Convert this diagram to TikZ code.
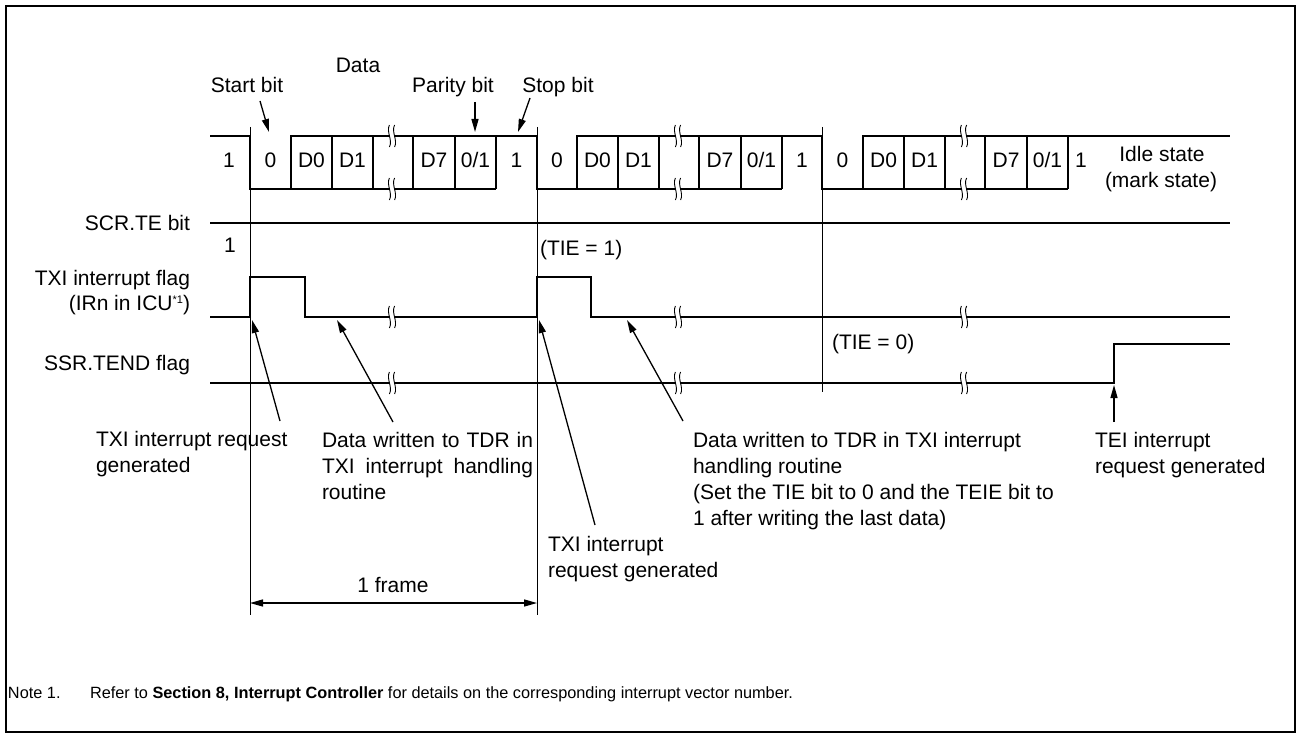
\documentclass[tikz,border=0pt]{standalone}
\usepackage{fontspec}
\setmainfont{Liberation Sans}
\usetikzlibrary{arrows.meta}
\begin{document}
\begin{tikzpicture}[x=1pt,y=-1pt,
  every node/.style={inner sep=0pt, outer sep=0pt, font=\fontsize{21}{26}\selectfont},
  lbl/.style={anchor=base},
  lblw/.style={anchor=base west},
  lble/.style={anchor=base east},
  wave/.style={line width=2.6pt},
  thinv/.style={line width=0.9pt},
  sig/.style={line width=2pt},
  arr/.style={line width=1.3pt, -{Triangle[length=13pt,width=7pt]}},
  darr/.style={line width=1.3pt, {Triangle[length=13pt,width=7pt]}-{Triangle[length=13pt,width=7pt]}},
  brk/.pic={
    \fill[white] (-2.6,-7) rectangle (2.6,7);
    \draw[line width=0.9pt] (-2.6,-11) .. controls (-6,-4) and (1,4) .. (-2.6,11);
    \draw[line width=0.9pt] (2.6,-11) .. controls (-1,-4) and (6,4) .. (2.6,11);
  }
]
\useasboundingbox (0,0) rectangle (1301,738);
% outer frame
\draw[line width=2.4pt] (6,6) rectangle (1295,732);

% thin frame markers
\draw[thinv] (250,127) -- (250,615);
\draw[thinv] (537,127) -- (537,615);
\draw[thinv] (822,127) -- (822,392);

% serial data waveform
\draw[wave] (210,136) -- (250,136) -- (250,189) -- (496,189);
\draw[wave] (291,189) -- (291,136) -- (537,136) -- (537,189) -- (782,189);
\draw[wave] (577,189) -- (577,136) -- (822,136) -- (822,189) -- (1068,189);
\draw[wave] (863,189) -- (863,136) -- (1230,136);
\foreach \x in {332,373,413,455,496, 618,659,699,741,782, 904,945,985,1027,1068}
  \draw[wave] (\x,136) -- (\x,189);

% SCR.TE
\draw[sig] (210,223) -- (1230,223);
% TXI flag
\draw[sig] (210,317) -- (250,317) -- (250,277) -- (305,277) -- (305,317) -- (537,317)
  -- (537,277) -- (591,277) -- (591,317) -- (1230,317);
% TEND flag
\draw[sig] (210,383) -- (1114,383) -- (1114,344) -- (1230,344);

% break marks
\foreach \x in {392,678,964} {
  \pic at (\x,136) {brk};
  \pic at (\x,189) {brk};
  \pic at (\x,317) {brk};
  \pic at (\x,383) {brk};
}

% top labels
\node[lbl] (data) at (358,72.5) {Data};
\node[lbl] (startl) at (247,92.5) {Start bit};
\node[lbl] (parl) at (453,92.5) {Parity bit};
\node[lbl] (stopl) at (558,92.5) {Stop bit};
\coordinate (sbA) at (260,101); \coordinate (sbB) at (269,132);
\coordinate (pbA) at (475,102); \coordinate (pbB) at (475,132);
\coordinate (stA) at (530,98);  \coordinate (stB) at (518,132);
\draw[arr] (sbA) -- (sbB);
\draw[arr] (pbA) -- (pbB);
\draw[arr] (stA) -- (stB);

% bit texts
\foreach \t/\x [count=\i] in {1/229, 0/270.5, D0/311.5, D1/352.5, D7/434, 0\slash 1/475.5, 1/516.5,
   0/557, D0/597.5, D1/638.5, D7/720, 0\slash 1/761.5, 1/802,
   0/842.5, D0/883.5, D1/924.5, D7/1006, 0\slash 1/1047.5, 1/1081}
  \node[lbl] (bit\i) at (\x,168) {\t};
\node[lbl] (idle1) at (1162,162) {Idle state};
\node[lbl] (idle2) at (1161,188) {(mark state)};

% left labels
\node[lble] (scr) at (190,230.5) {SCR.TE bit};
\node[lbl] (scr1) at (230,252.5) {1};
\node[lble] (txi1) at (190,285) {TXI interrupt flag};
\node[lble] (txi2) at (190,310) {(IRn in ICU\raisebox{7pt}{\fontsize{11}{11}\selectfont *1})};
\node[lble] (tend) at (190,370) {SSR.TEND flag};

\node[lblw] (tie1) at (540,255.5) {(TIE = 1)};
\node[lblw] (tie0) at (832,349) {(TIE = 0)};

% bottom annotations
\node[lblw] (r1a) at (96,446) {TXI interrupt request};
\node[lblw] (r1b) at (96,472) {generated};
\node[lblw] (w1a) at (322,447) {\makebox[211pt][s]{Data written to TDR in}};
\node[lblw] (w1b) at (322,473) {\makebox[211pt][s]{TXI interrupt handling}};
\node[lblw] (w1c) at (322,499) {routine};
\node[lblw] (w2a) at (693,447) {Data written to TDR in TXI interrupt};
\node[lblw] (w2b) at (693,473) {handling routine};
\node[lblw] (w2c) at (693,499) {(Set the TIE bit to 0 and the TEIE bit to};
\node[lblw] (w2d) at (693,525) {1 after writing the last data)};
\node[lblw] (teia) at (1095,447) {TEI interrupt};
\node[lblw] (teib) at (1095,473) {request generated};
\node[lblw] (r2a) at (548,551.5) {TXI interrupt};
\node[lblw] (r2b) at (548,577.5) {request generated};

\coordinate (a1t) at (280,421); \coordinate (a1h) at (252,320);
\coordinate (a2t) at (393,422); \coordinate (a2h) at (337,320);
\coordinate (a3t) at (595,525); \coordinate (a3h) at (539,320);
\coordinate (a4t) at (683,421); \coordinate (a4h) at (627,320);
\coordinate (a5t) at (1114,422); \coordinate (a5h) at (1114,385);
\draw[arr] (a1t) -- (a1h);
\draw[arr] (a2t) -- (a2h);
\draw[arr] (a3t) -- (a3h);
\draw[arr] (a4t) -- (a4h);
\draw[arr] (a5t) -- (a5h);

% frame dimension
\node[lbl] (frm) at (393,592.5) {1 frame};
\coordinate (fL) at (250,603); \coordinate (fR) at (537,603);
\draw[darr] (fL) -- (fR);

% note
\node[lblw, font=\fontsize{16.3}{20}\selectfont] (note1) at (8,698) {Note 1.};
\node[lblw, font=\fontsize{16.3}{20}\selectfont] (note2) at (90,698) {Refer to \textbf{Section 8, Interrupt Controller} for details on the corresponding interrupt vector number.};
\end{tikzpicture}
\end{document}
